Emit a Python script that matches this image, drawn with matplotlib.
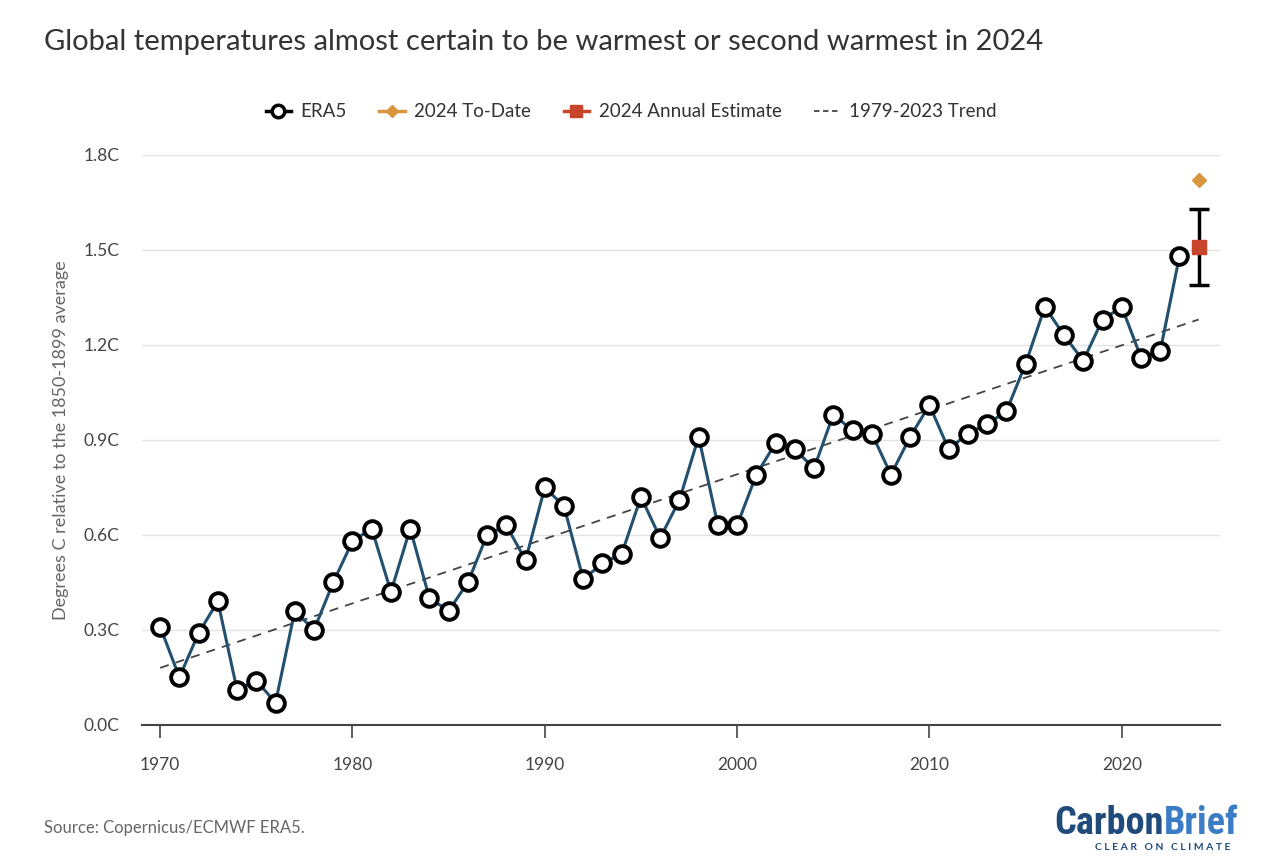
import matplotlib.pyplot as plt
from matplotlib.lines import Line2D

plt.rcParams['font.family'] = ['Lato', 'DejaVu Sans']

# ERA5 annual global temperature, degrees C above 1850-1899
years = list(range(1970, 2024))
era5 = [0.31, 0.15, 0.29, 0.39, 0.11, 0.14, 0.07, 0.36, 0.30, 0.45,
        0.58, 0.62, 0.42, 0.62, 0.40, 0.36, 0.45, 0.60, 0.63, 0.52,
        0.75, 0.69, 0.46, 0.51, 0.54, 0.72, 0.59, 0.71, 0.91, 0.63,
        0.63, 0.79, 0.89, 0.87, 0.81, 0.98, 0.93, 0.92, 0.79, 0.91,
        1.01, 0.87, 0.92, 0.95, 0.99, 1.14, 1.32, 1.23, 1.15, 1.28,
        1.32, 1.16, 1.18, 1.48]

todate_year = [2024]
todate_value = [1.72]

estimate_year = [2024]
estimate_value = [1.51]
estimate_low = [1.39]
estimate_high = [1.63]

trend_years = [1970, 2024]
trend_values = [0.18, 1.28]

yticks = [0.0, 0.3, 0.6, 0.9, 1.2, 1.5, 1.8]
ytick_labels = ['0.0C', '0.3C', '0.6C', '0.9C', '1.2C', '1.5C', '1.8C']
xticks = [1970, 1980, 1990, 2000, 2010, 2020]

line_col = '#22506e'
orange = '#d9963e'
red = '#c8452c'
text_col = '#333333'

fig = plt.figure(figsize=(12.8, 8.65), dpi=100)
ax = fig.add_axes([0.111, 0.162, 0.842, 0.659])

for y in yticks[1:]:
    ax.axhline(y, color='#e3e3e3', lw=1, zorder=0)

ax.plot(trend_years, trend_values, color='#444444', lw=1.3, ls=(0, (5, 4)), zorder=2)
ax.plot(years, era5, color=line_col, lw=2.2, zorder=3,
        marker='o', ms=12, mfc='white', mec='black', mew=2.8, clip_on=False)

err_lo = [v - l for v, l in zip(estimate_value, estimate_low)]
err_hi = [h - v for v, h in zip(estimate_value, estimate_high)]
ax.errorbar(estimate_year, estimate_value, yerr=[err_lo, err_hi], fmt='none',
            ecolor='black', elinewidth=2.5, capsize=7, capthick=2.5, zorder=4)
ax.plot(estimate_year, estimate_value, ls='none', marker='s', ms=10,
        color=red, zorder=5, clip_on=False)
ax.plot(todate_year, todate_value, ls='none', marker='D', ms=7,
        color=orange, zorder=5, clip_on=False)

ax.set_xlim(1969.06, 2025.1)
ax.set_ylim(0, 1.8)
ax.set_yticks(yticks)
ax.set_yticklabels(ytick_labels)
ax.set_xticks(xticks)

for s in ['top', 'right', 'left']:
    ax.spines[s].set_visible(False)
ax.spines['bottom'].set_color('#444444')
ax.spines['bottom'].set_linewidth(1.5)
ax.tick_params(axis='y', length=0, pad=16.5, labelsize=12.5, labelcolor='#444444')
ax.tick_params(axis='x', length=9, width=1.2, color='#444444', pad=14,
               labelsize=12.5, labelcolor='#444444')
ax.set_ylabel('Degrees C relative to the 1850-1899 average', fontsize=13,
              color='#666666', labelpad=10)

handles = [
    Line2D([], [], color='black', lw=2.5, marker='o', ms=9, mfc='white', mec='black', mew=2.5),
    Line2D([], [], color=orange, lw=2.5, marker='D', ms=6, mfc=orange, mec=orange),
    Line2D([], [], color=red, lw=2.5, marker='s', ms=8, mfc=red, mec=red),
    Line2D([], [], color='#444444', lw=1.3, ls=(0, (3, 2))),
]
labels = ['ERA5', '2024 To-Date', '2024 Annual Estimate', '1979-2023 Trend']
fig.legend(handles, labels, loc='center', bbox_to_anchor=(0.493, 0.871), ncol=4,
           frameon=False, fontsize=13.5, handlelength=1.35, columnspacing=1.75,
           handletextpad=0.5, labelcolor=text_col)

fig.text(0.034, 0.951, 'Global temperatures almost certain to be warmest or second warmest in 2024',
         fontsize=21, color=text_col, va='center', ha='left')
fig.text(0.034, 0.043, 'Source: Copernicus/ECMWF ERA5.', fontsize=12,
         color='#666666', va='center', ha='left')

logo_font = ['Roboto Condensed', 'Liberation Sans Narrow', 'Roboto', 'DejaVu Sans']
t1 = fig.text(0.824, 0.036, 'Carbon', fontsize=27.5, fontweight='bold',
              color='#1f4a7a', family=logo_font, va='baseline', ha='left')
fig.canvas.draw()
bb = t1.get_window_extent()
fig.text(bb.x1 / fig.bbox.width, 0.036, 'Brief', fontsize=27.5, fontweight='bold',
         color='#3b7dc4', family=logo_font, va='baseline', ha='left')
fig.text(0.9086, 0.0197, 'C L E A R   O N   C L I M A T E', fontsize=7.5,
         color='#1f4a7a', fontweight='bold', ha='center', va='center')

fig.savefig('out.png', dpi=100)
